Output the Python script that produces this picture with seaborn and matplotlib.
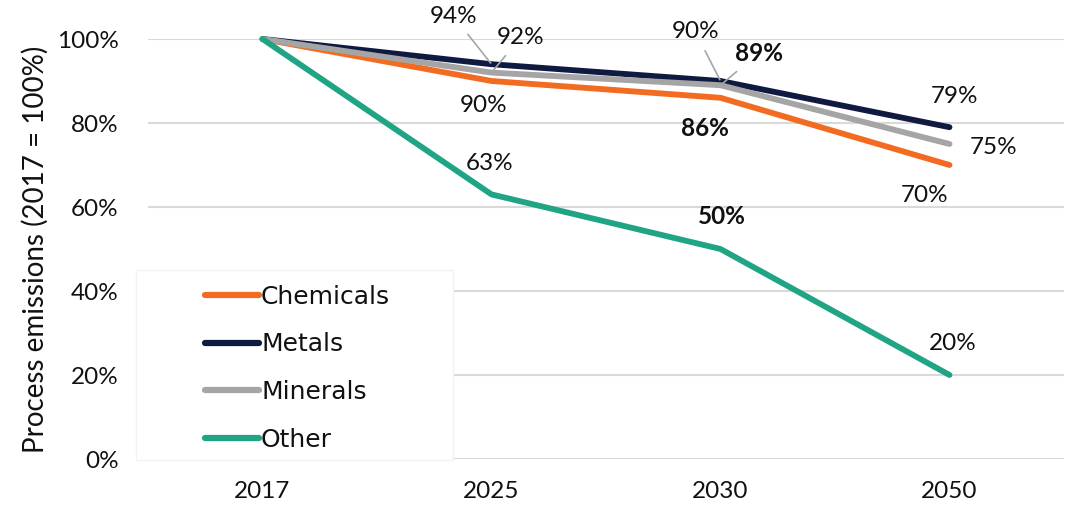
import matplotlib
matplotlib.use("Agg")
import matplotlib.pyplot as plt
from matplotlib.patches import Rectangle
import seaborn as sns
import pandas as pd

# Process emissions indexed to 2017 = 100%
years = ["2017", "2025", "2030", "2050"]
chemicals = [1.00, 0.90, 0.86, 0.70]
metals = [1.00, 0.94, 0.90, 0.79]
minerals = [1.00, 0.92, 0.89, 0.75]
other = [1.00, 0.63, 0.50, 0.20]
series_names = ["Chemicals", "Metals", "Minerals", "Other"]
y_ticks = [0.0, 0.2, 0.4, 0.6, 0.8, 1.0]
y_tick_labels = ["0%", "20%", "40%", "60%", "80%", "100%"]

colors = {
    "Chemicals": "#F26B21",
    "Metals": "#0E1A40",
    "Minerals": "#A5A5A5",
    "Other": "#1FA584",
}

sns.set_theme(style="white")
plt.rcParams["font.family"] = ["Lato", "DejaVu Sans"]

values = {"Chemicals": chemicals, "Metals": metals, "Minerals": minerals, "Other": other}
rows = []
for name in series_names:
    for i, (yr, v) in enumerate(zip(years, values[name])):
        rows.append({"pos": i, "year": yr, "value": v, "series": name})
df = pd.DataFrame(rows)

fig = plt.figure(figsize=(10.78, 5.07), dpi=100)
ax = fig.add_axes([148 / 1078, 48 / 507, (1064 - 148) / 1078, (459 - 39) / 507])

sns.lineplot(
    data=df, x="pos", y="value", hue="series", hue_order=series_names,
    palette=colors, linewidth=4.2, sort=False, ax=ax, legend=True,
)
for line in ax.get_lines():
    line.set_solid_capstyle("round")
    line.set_solid_joinstyle("round")
    line.set_clip_on(False)

ax.set_xlim(-0.5, 3.5)
ax.set_ylim(0, 1.0)
ax.set_xticks(range(len(years)))
ax.set_xticklabels(years)
ax.set_yticks(y_ticks)
ax.set_yticklabels(y_tick_labels)
ax.tick_params(axis="x", length=0, pad=16, labelsize=17.5, colors="#111111")
ax.tick_params(axis="y", length=0, pad=21, labelsize=17.5, colors="#111111")
ax.set_xlabel("")
ax.set_ylabel("Process emissions (2017 = 100%)", fontsize=20, color="#111111", labelpad=6)
ax.yaxis.grid(True, color="#D9D9D9", linewidth=1.5)
ax.set_axisbelow(True)
for s in ax.spines.values():
    s.set_visible(False)

# Value labels: (series, year index, offset in pixels, bold, leader line)
px = 0.72  # pixels -> points at 100 dpi
labels = [
    ("Metals", 1, (-38, 48), False, True),
    ("Minerals", 1, (29, 35), False, True),
    ("Chemicals", 1, (-8, -24), False, False),
    ("Other", 1, (-2, 31), False, False),
    ("Metals", 2, (-25, 49), False, True),
    ("Minerals", 2, (38, 32), True, True),
    ("Chemicals", 2, (-16, -31), True, False),
    ("Other", 2, (1, 32), True, False),
    ("Metals", 3, (5, 31), False, False),
    ("Minerals", 3, (44, -3), False, False),
    ("Chemicals", 3, (-25, -30), False, False),
    ("Other", 3, (3, 32), False, False),
]
for name, i, (dx, dy), bold, leader in labels:
    v = values[name][i]
    kw = {}
    if leader:
        kw["arrowprops"] = dict(arrowstyle="-", color="#A6A6A6", lw=1.2,
                                shrinkA=4, shrinkB=1)
    ax.annotate(
        f"{round(v * 100):d}%", xy=(i, v), xytext=(dx * px, dy * px),
        textcoords="offset points", ha="center", va="center",
        fontsize=17.5, fontweight="bold" if bold else "normal",
        color="#111111", annotation_clip=False, **kw,
    )

# Legend sits on a white panel in the lower-left corner of the plot
panel = Rectangle((-0.013, -0.003), 0.346, 0.453, transform=ax.transAxes,
                  facecolor="white", edgecolor="#F2F2F2", linewidth=1.0,
                  zorder=4, clip_on=False)
ax.add_patch(panel)

handles, labs = ax.get_legend_handles_labels()
leg = ax.legend(
    handles, labs, loc="upper left", bbox_to_anchor=(0.062, 0.415),
    frameon=False, prop={"family": ["DejaVu Sans"], "size": 18},
    handlelength=2.15, handletextpad=0.1,
    labelspacing=0.95, borderpad=0, borderaxespad=0,
)
for h in leg.get_lines():
    h.set_linewidth(4.5)
    h.set_solid_capstyle("round")
for t in leg.get_texts():
    t.set_color("#111111")
leg.set_zorder(5)

fig.savefig("out.png", dpi=100)
